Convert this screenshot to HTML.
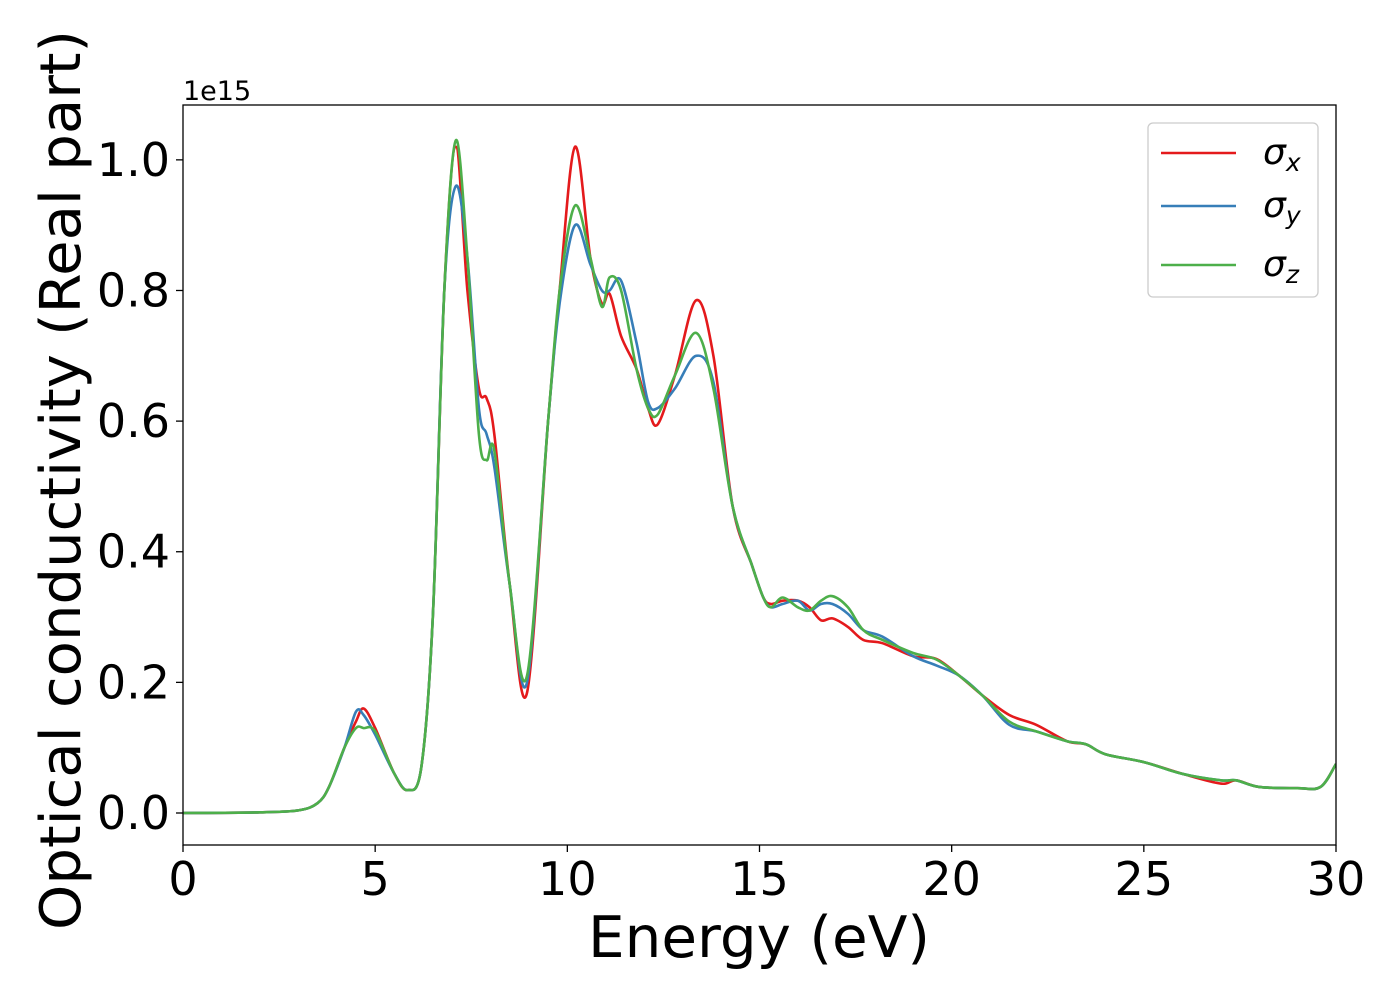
<!DOCTYPE html>
<html><head><meta charset="utf-8"><style>
html,body{margin:0;padding:0;background:#fff;}
svg{display:block;font-family:"DejaVu Sans","Liberation Sans",sans-serif;}
</style></head><body>
<svg id="chart" width="1400" height="1000" viewBox="0 0 1400 1000">
<g id="axes-g"></g>
</svg>
<script>
const energies=[0,2,3,3.5,3.8,4.2,4.5,4.7,5.0,5.5,5.85,6.2,6.5,6.8,7.1,7.4,7.7,7.9,8.1,8.5,8.95,9.5,9.8,10.2,10.6,10.9,11.1,11.4,11.8,12.1,12.35,12.8,13.35,13.8,14.3,14.8,15.1,15.3,15.6,16.0,16.3,16.6,16.9,17.3,17.7,18.2,19,19.6,20.2,20.8,21.5,22.2,23,23.5,24,25,26,27,27.4,28,29,29.6,30];
const sigmaX=[0,0.001,0.004,0.015,0.04,0.10,0.14,0.16,0.13,0.06,0.035,0.07,0.3,0.8,1.02,0.8,0.65,0.635,0.58,0.35,0.184,0.6,0.8,1.02,0.85,0.78,0.795,0.73,0.68,0.62,0.595,0.67,0.785,0.70,0.47,0.38,0.33,0.32,0.325,0.325,0.315,0.295,0.298,0.285,0.265,0.26,0.24,0.236,0.21,0.18,0.15,0.135,0.11,0.105,0.09,0.078,0.06,0.045,0.05,0.04,0.038,0.04,0.075];
const sigmaY=[0,0.001,0.004,0.015,0.04,0.10,0.155,0.15,0.12,0.06,0.035,0.07,0.3,0.8,0.96,0.85,0.62,0.58,0.53,0.35,0.20,0.6,0.78,0.90,0.84,0.80,0.80,0.815,0.72,0.63,0.62,0.65,0.70,0.66,0.47,0.38,0.33,0.315,0.32,0.325,0.31,0.32,0.32,0.305,0.28,0.27,0.24,0.226,0.21,0.18,0.135,0.125,0.11,0.105,0.09,0.078,0.06,0.05,0.05,0.04,0.038,0.04,0.075];
const sigmaZ=[0,0.001,0.004,0.015,0.04,0.10,0.13,0.13,0.125,0.06,0.035,0.07,0.3,0.8,1.03,0.85,0.58,0.54,0.555,0.35,0.21,0.6,0.8,0.93,0.85,0.775,0.82,0.80,0.68,0.62,0.61,0.67,0.735,0.65,0.47,0.38,0.33,0.315,0.33,0.315,0.31,0.325,0.332,0.315,0.28,0.265,0.245,0.235,0.21,0.18,0.14,0.125,0.11,0.105,0.09,0.078,0.06,0.05,0.05,0.04,0.038,0.04,0.075];
const xTicks=[0,5,10,15,20,25,30];
const yTicks=[0,0.2,0.4,0.6,0.8,1.0];
const seriesNames=["σx","σy","σz"];

const L=183,R=1336,T=105,B=845,xMin=0,xMax=30,yMin=-0.049,yMax=1.084;
const sx=v=>L+(v-xMin)/(xMax-xMin)*(R-L);
const sy=v=>B-(v-yMin)/(yMax-yMin)*(B-T);
const NS="http://www.w3.org/2000/svg";
const svg=document.getElementById('chart');
function mk(tag,attrs,parent){const e=document.createElementNS(NS,tag);for(const k in attrs)e.setAttribute(k,attrs[k]);(parent||svg).appendChild(e);return e;}
function path(xs,ys){
  const p=xs.map((x,i)=>[sx(x),sy(ys[i])]);
  let d="M"+p[0][0].toFixed(1)+","+p[0][1].toFixed(1);
  for(let i=0;i<p.length-1;i++){
    const p0=p[Math.max(0,i-1)],p1=p[i],p2=p[i+1],p3=p[Math.min(p.length-1,i+2)];
    const c1=[p1[0]+(p2[0]-p0[0])/6,p1[1]+(p2[1]-p0[1])/6];
    const c2=[p2[0]-(p3[0]-p1[0])/6,p2[1]-(p3[1]-p1[1])/6];
    d+=`C${c1[0].toFixed(1)},${c1[1].toFixed(1)} ${c2[0].toFixed(1)},${c2[1].toFixed(1)} ${p2[0].toFixed(1)},${p2[1].toFixed(1)}`;
  }
  return d;
}
const cp=mk('clipPath',{id:'clip'});mk('rect',{x:L,y:T,width:R-L,height:B-T},cp);
const colors=['#e41a1c','#377eb8','#4daf4a'];
[sigmaX,sigmaY,sigmaZ].forEach((s,i)=>{
  const e=mk('path',{d:path(energies,s),fill:'none',stroke:colors[i],'stroke-width':2.6,'clip-path':'url(#clip)'});
  
  
});
const frame=mk('rect',{x:L,y:T,width:R-L,height:B-T,fill:'none',stroke:'#000','stroke-width':1.3});


xTicks.forEach(v=>{
  const t=mk('line',{x1:sx(v),x2:sx(v),y1:B,y2:B+7,stroke:'#000','stroke-width':1.3});
  
  
  const l=mk('text',{x:sx(v),y:895,'font-size':46,'text-anchor':'middle',fill:'#000'});
  l.textContent=v;
  
  
});
yTicks.forEach(v=>{
  const t=mk('line',{x1:L-7,x2:L,y1:sy(v),y2:sy(v),stroke:'#000','stroke-width':1.3});
  
  
  const l=mk('text',{x:170,y:sy(v)+16,'font-size':46,'text-anchor':'end',fill:'#000'});
  l.textContent=v.toFixed(1);
  
  
});
const off=mk('text',{x:183,y:100,'font-size':27,fill:'#000'});off.textContent='1e15';


const xt=mk('text',{x:588,y:957,'font-size':57,fill:'#000',textLength:342,lengthAdjust:'spacingAndGlyphs'});xt.textContent='Energy (eV)';


const yt=mk('text',{x:0,y:0,'font-size':56,fill:'#000',textLength:900,lengthAdjust:'spacingAndGlyphs',transform:'translate(80,930) rotate(-90)'});yt.textContent='Optical conductivity (Real part)';


const lg=mk('rect',{x:1148,y:123,width:170,height:174,rx:5,fill:'#fff','fill-opacity':0.8,stroke:'#ccc','stroke-width':1.3});


const ly=[153,206,265],subs=['x','y','z'];
seriesNames.forEach((n,i)=>{
  const ln=mk('line',{x1:1161,x2:1236,y1:ly[i],y2:ly[i],stroke:colors[i],'stroke-width':2.6});
  
  
  const tx=mk('text',{x:1263,y:ly[i]+11,'font-size':36,'font-style':'italic',fill:'#000'});
  tx.textContent='σ';
  const ts=mk('tspan',{'font-size':25,dy:7},tx);ts.textContent=subs[i];
  
  
});
</script>
</body></html>
